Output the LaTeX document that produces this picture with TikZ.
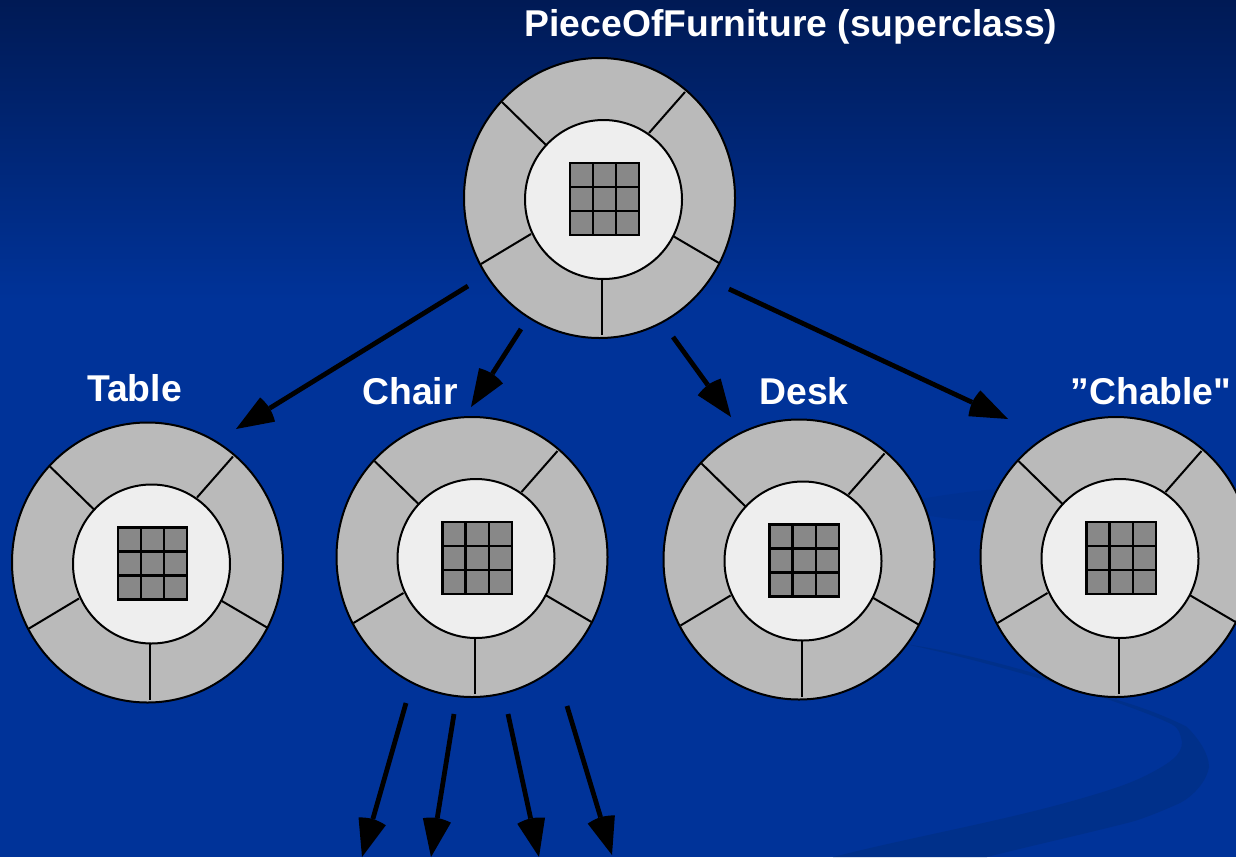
\documentclass[tikz,border=0pt]{standalone}
\usepackage{fontspec}
\setmainfont{Liberation Sans}
\newfontfamily\headingfont{Liberation Sans}
\usetikzlibrary{shapes.geometric}
\definecolor{bgtop}{HTML}{001A55}
\definecolor{bgmain}{HTML}{003399}
\definecolor{swoosh}{HTML}{00308A}
\definecolor{swooshfaint}{HTML}{003192}
\definecolor{ring}{HTML}{BABABA}
\definecolor{core}{HTML}{EEEEEE}
\definecolor{cellgray}{HTML}{888888}
\pgfarrowsdeclare{fanhead}{fanhead}{\pgfarrowsleftextend{0pt}\pgfarrowsrightextend{39.5pt}}{%
  \pgfsetlinewidth{0pt}%
  \pgfpathmoveto{\pgfpoint{39.5pt}{0pt}}%
  \pgfpathlineto{\pgfpoint{2.4pt}{14.2pt}}%
  \pgfpathcurveto{\pgfpoint{0.8pt}{9pt}}{\pgfpoint{0pt}{4pt}}{\pgfpoint{0pt}{0pt}}%
  \pgfpathcurveto{\pgfpoint{0pt}{-4pt}}{\pgfpoint{0.8pt}{-9pt}}{\pgfpoint{2.4pt}{-14.2pt}}%
  \pgfpathclose
  \pgfusepathqfill}
\tikzset{
  outerring/.style={ellipse,draw=black,line width=2pt,fill=ring,minimum width=271pt,minimum height=280pt,inner sep=0pt},
  innerdisc/.style={ellipse,draw=black,line width=2pt,fill=core,minimum width=157pt,minimum height=159pt,inner sep=0pt},
  spoke/.style={draw=black,line width=2pt},
  gridcell/.style={draw=black,line width=2.3pt,fill=cellgray},
  heading/.style={text=white,font=\headingfont\bfseries\fontsize{37.3}{42}\selectfont,inner sep=0pt},
  link/.style={draw=black,line width=4.8pt,-fanhead}
}
\newcommand{\rosette}[3]{%
  \begin{scope}[shift={(#2,#3)}]
    \node[outerring] (#1) at (599.5,198) {};
    \draw[spoke] (502,102) -- (546,145);
    \draw[spoke] (685,92) -- (649,133);
    \draw[spoke] (719,263) -- (673,236);
    \draw[spoke] (602,335) -- (602,279);
    \draw[spoke] (481,264) -- (531,234);
    \node[innerdisc] (#1-core) at (603.5,199.5) {};
    \foreach \r in {0,1,2}{\foreach \c in {0,1,2}{
      \draw[gridcell] (570+\c*23.1,163+\r*24) rectangle +(23.1,24);
    }}
  \end{scope}}
\begin{document}
\begin{tikzpicture}[x=1pt,y=-1pt]
\useasboundingbox (0,0) rectangle (1236,857);
\clip (0,0) rectangle (1236,857);
\fill[bgmain] (0,0) rectangle (1236,857);
\shade[top color=bgtop,bottom color=bgmain] (0,0) rectangle (1236,300);
\fill[swoosh] (905,644) .. controls (980,655) and (1060,680) .. (1110,698)
  .. controls (1140,706) and (1170,718) .. (1187,727)
  .. controls (1200,740) and (1209,755) .. (1209,767)
  .. controls (1207,780) and (1195,795) .. (1180,803)
  .. controls (1160,812) and (1140,820) .. (1127,823)
  .. controls (1080,835) and (1030,846) .. (987,857)
  -- (833,857) .. controls (920,835) and (1010,820) .. (1093,795)
  .. controls (1120,787) and (1135,781) .. (1147,775)
  .. controls (1170,763) and (1182,755) .. (1182,742)
  .. controls (1180,732) and (1178,728) .. (1173,725)
  .. controls (1160,718) and (1135,709) .. (1110,700)
  .. controls (1060,684) and (980,660) .. cycle;
\fill[swooshfaint] (920,499) .. controls (950,494) and (980,490) .. (1000,489) -- (1000,520)
  .. controls (980,522) and (950,520) .. (920,514) -- cycle;

\rosette{furniture}{0}{0}
\rosette{table}{-452}{364.5}
\rosette{chair}{-127.5}{359}
\rosette{desk}{199.5}{361.5}
\rosette{chable}{516.5}{359}

\node[heading] (tsuper) at (791,27) {PieceOfFurniture (superclass)};
\node[heading] (ttable) at (134.5,388) {Table};
\node[heading] (tchair) at (410,391) {Chair};
\node[heading] (tdesk) at (804,391) {Desk};
\node[heading] (tchable) at (1151,391) {”Chable"};

\coordinate (f1) at (468,286);
\coordinate (f2) at (521,329);
\coordinate (f3) at (673,337);
\coordinate (f4) at (729,289);
\coordinate (tiptable) at (236,429);
\coordinate (tipchair) at (471,407);
\coordinate (tipdesk) at (731,417);
\coordinate (tipchable) at (1008,419);
\draw[link] (f1) -- (tiptable);
\draw[link] (f2) -- (tipchair);
\draw[link] (f3) -- (tipdesk);
\draw[link] (f4) -- (tipchable);

\coordinate (c1) at (406,703);
\coordinate (c2) at (454,714);
\coordinate (c3) at (508,714);
\coordinate (c4) at (567,706);
\coordinate (s1) at (362,857);
\coordinate (s2) at (431,857);
\coordinate (s3) at (539,857);
\coordinate (s4) at (612,855);
\draw[link] (c1) -- (s1);
\draw[link] (c2) -- (s2);
\draw[link] (c3) -- (s3);
\draw[link] (c4) -- (s4);
\end{tikzpicture}
\end{document}
